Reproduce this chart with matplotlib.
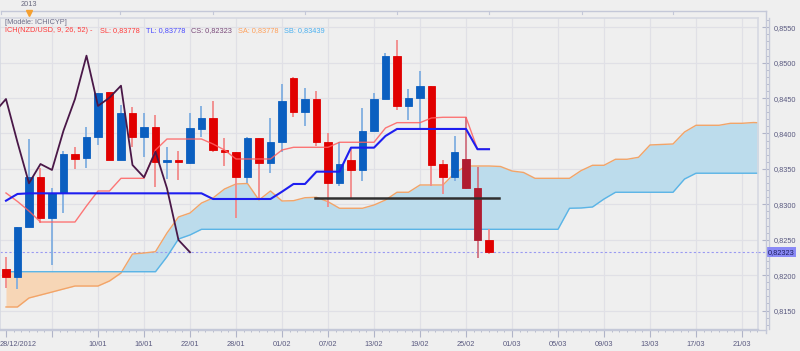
import matplotlib
matplotlib.use('Agg')
import matplotlib.pyplot as plt
import numpy as np
from matplotlib.lines import Line2D
from matplotlib.ticker import FixedLocator, FuncFormatter, MultipleLocator
import matplotlib.transforms as mtransforms

# ---------------- data ----------------
opens = [0.82082, 0.81969, 0.82675, 0.83390, 0.82802, 0.83164, 0.83706, 0.83650, 0.83955, 0.84582,
         0.83626, 0.84285, 0.83955, 0.84096, 0.83602, 0.83612, 0.83588, 0.84064, 0.84215, 0.83767,
         0.83743, 0.83390, 0.83932, 0.83588, 0.83876, 0.84780, 0.84300, 0.84487, 0.83876, 0.83297,
         0.83626, 0.83485, 0.84040, 0.84487, 0.85099, 0.84393, 0.84506, 0.84675, 0.83565, 0.83381,
         0.83636, 0.83226, 0.82496]
closes = [0.81969, 0.82675, 0.83390, 0.82802, 0.83164, 0.83706, 0.83640, 0.83955, 0.84568, 0.83626,
          0.84285, 0.83955, 0.84096, 0.83602, 0.83612, 0.83598, 0.84074, 0.84215, 0.83767, 0.83743,
          0.83390, 0.83932, 0.83588, 0.83876, 0.84459, 0.84300, 0.84487, 0.83876, 0.83297, 0.83569,
          0.83485, 0.84040, 0.84487, 0.85099, 0.84389, 0.84506, 0.84675, 0.83555, 0.83381, 0.83743,
          0.83226, 0.82496, 0.82323]
highs = [0.82252, 0.82679, 0.83922, 0.83513, 0.83235, 0.83753, 0.83805, 0.84088, 0.84572, 0.84593,
         0.84403, 0.84379, 0.84294, 0.84261, 0.83814, 0.83753, 0.84294, 0.84389, 0.84459, 0.83932,
         0.83743, 0.83955, 0.83932, 0.84215, 0.84699, 0.84802, 0.84647, 0.84600, 0.84011, 0.83876,
         0.83781, 0.84356, 0.84576, 0.85141, 0.85321, 0.84633, 0.84887, 0.84675, 0.83626, 0.83969,
         0.84237, 0.83531, 0.82651]
lows = [0.81818, 0.81804, 0.82675, 0.82740, 0.82143, 0.82877, 0.83494, 0.83509, 0.83838, 0.83619,
        0.83626, 0.83814, 0.83672, 0.83240, 0.83353, 0.83343, 0.83569, 0.83955, 0.83743, 0.83541,
        0.82811, 0.83297, 0.83071, 0.83438, 0.83743, 0.84237, 0.84110, 0.83828, 0.82966, 0.83259,
        0.83093, 0.83333, 0.84040, 0.84487, 0.84332, 0.84191, 0.84049, 0.83263, 0.83141, 0.83333,
        0.83212, 0.82237, 0.82298]

# Ichimoku lines
sl_line = [0.83160, 0.83040, 0.82905, 0.82750, 0.82750, 0.82750, 0.82750, 0.82976, 0.83188, 0.83188,
           0.83367, 0.83367, 0.83367, 0.83767, 0.83922, 0.83922, 0.83922, 0.83922, 0.83852, 0.83767,
           0.83640, 0.83640, 0.83640, 0.83640, 0.83767, 0.83805, 0.83805, 0.83805, 0.83805, 0.83876,
           0.83876, 0.83876, 0.83876, 0.84078, 0.84153, 0.84153, 0.84153, 0.84219, 0.84229, 0.84229,
           0.84229, 0.83778, 0.83778]
tl_line = [0.83051, 0.83146, 0.83155, 0.83155, 0.83155, 0.83155, 0.83155, 0.83155, 0.83155, 0.83155,
           0.83155, 0.83155, 0.83155, 0.83155, 0.83155, 0.83155, 0.83155, 0.83155, 0.83075, 0.83075,
           0.83075, 0.83075, 0.83075, 0.83075, 0.83178, 0.83287, 0.83287, 0.83461, 0.83461, 0.83461,
           0.83800, 0.83800, 0.83800, 0.83965, 0.84064, 0.84064, 0.84064, 0.84064, 0.84064, 0.84064,
           0.84064, 0.83778, 0.83778]
sa_line = [0.81550, 0.81550, 0.81677, 0.81719, 0.81761, 0.81804, 0.81846, 0.81846, 0.81846, 0.81917,
           0.82030, 0.82298, 0.82312, 0.82331, 0.82595, 0.82821, 0.82877, 0.83018, 0.83089, 0.83216,
           0.83287, 0.83294, 0.83061, 0.83188, 0.83047, 0.83051, 0.83093, 0.83099, 0.83037, 0.82944,
           0.82944, 0.82944, 0.82990, 0.83061, 0.83170, 0.83170, 0.83273, 0.83273, 0.83273, 0.83438,
           0.83541, 0.83541, 0.83541, 0.83534, 0.83470, 0.83450, 0.83367, 0.83367, 0.83367, 0.83367,
           0.83475, 0.83551, 0.83551, 0.83636, 0.83636, 0.83664, 0.83838, 0.83845, 0.83852, 0.84021,
           0.84116, 0.84116, 0.84116, 0.84144, 0.84144, 0.84155, 0.84147, 0.83778, 0.83778]
sb_line = [0.82048, 0.82048, 0.82048, 0.82048, 0.82048, 0.82048, 0.82048, 0.82048, 0.82048, 0.82048,
           0.82048, 0.82048, 0.82048, 0.82048, 0.82260, 0.82510, 0.82567, 0.82647, 0.82647, 0.82647,
           0.82647, 0.82647, 0.82647, 0.82647, 0.82647, 0.82647, 0.82647, 0.82647, 0.82647, 0.82647,
           0.82647, 0.82647, 0.82647, 0.82647, 0.82647, 0.82647, 0.82647, 0.82647, 0.82647, 0.82647,
           0.82647, 0.82647, 0.82647, 0.82647, 0.82647, 0.82647, 0.82647, 0.82647, 0.82647, 0.82944,
           0.82948, 0.82962, 0.83075, 0.83170, 0.83170, 0.83170, 0.83170, 0.83170, 0.83170, 0.83357,
           0.83439, 0.83439, 0.83439, 0.83439, 0.83439, 0.83439, 0.83439, 0.83439, 0.83439]
chikou_shift = 26

support_level = 0.83093
support_range = (26.9, 42.9)
last_close = 0.82323

x_tick_pos = [0, 4, 8, 12, 16, 20, 24, 28, 32, 36, 40, 44, 48, 52, 56, 60, 64]
x_tick_labels = ['28/12/2012', '', '10/01', '16/01', '22/01', '28/01', '01/02', '07/02', '13/02',
                 '19/02', '25/02', '01/03', '05/03', '09/03', '13/03', '17/03', '21/03']
y_ticks = [0.8150, 0.8200, 0.8250, 0.8300, 0.8350, 0.8400, 0.8450, 0.8500, 0.8550]

header_parts = [
    ('ICH(NZD/USD, 9, 26, 52) -', '#ff3c3c', 5),
    ('SL: 0,83778', '#ff3c3c', 100),
    ('TL: 0,83778', '#4a4aff', 146),
    ('CS: 0,82323', '#7a4a7a', 191),
    ('SA: 0,83778', '#ffa05a', 237.5),
    ('SB: 0,83439', '#4ab0f0', 284),
]

# ---------------- figure ----------------
W, H = 800, 351
BG = '#efefef'
plt.rcParams['font.family'] = ['Liberation Sans', 'DejaVu Sans']
fig = plt.figure(figsize=(W / 100, H / 100), dpi=100, facecolor=BG)

def fx(px):
    return px / W

def fy(py):
    return 1 - py / H

ax_left, ax_right, ax_top, ax_bottom = 0, 758, 18, 329
ax = fig.add_axes([fx(ax_left), fy(ax_bottom), fx(ax_right - ax_left), (ax_bottom - ax_top) / H])
ax.set_facecolor(BG)

n = len(closes)
x = np.arange(n)
o = np.array(opens); c = np.array(closes); hi = np.array(highs); lo = np.array(lows)
sa = np.array(sa_line); sb = np.array(sb_line)
xc = np.arange(len(sa))

ax.set_xlim(-0.52, 65.39)
ax.set_ylim(0.81239, 0.85631)

# grid
for t in x_tick_pos[1:]:
    ax.axvline(t, color='#e0e0e6', lw=0.9, zorder=0)
for t in y_ticks:
    ax.axhline(t, color='#e0e0e6', lw=0.9, zorder=0)

# cloud
ax.fill_between(xc, sa, sb, where=sa >= sb, interpolate=True, color='#bcdcec', lw=0, zorder=1)
ax.fill_between(xc, sa, sb, where=sa < sb, interpolate=True, color='#f7d6b6', lw=0, zorder=1)
ax.plot(xc, sa, color='#f2a468', lw=1.0, zorder=2)
ax.plot(xc, sb, color='#5ab4e6', lw=1.0, zorder=2)

# close dashed line
ax.axhline(last_close, color='#9a9af2', lw=0.8, ls=(0, (2, 2)), zorder=1.5)

# candles
up = c >= o
in_cloud = ((o + c) / 2 < sa[:n]) & ((o + c) / 2 > sb[:n]) & (sa[:n] > sb[:n])
body_col = []
wick_col = []
for i in range(n):
    if up[i]:
        body_col.append('#0b5fc0'); wick_col.append('#80aee0')
    elif in_cloud[i]:
        body_col.append('#b01c30'); wick_col.append('#d07080')
    else:
        body_col.append('#e10000'); wick_col.append('#f28a8a')
ax.vlines(x, lo, hi, colors=wick_col, lw=1.3, zorder=2.6)
bottoms = np.minimum(o, c)
heights = np.maximum(np.abs(c - o), 0.0003)
ax.bar(x, heights, bottom=bottoms, width=0.68, color=body_col, edgecolor=body_col,
       linewidth=0.6, zorder=3)

# lines
ax.plot(x, sl_line, color='#ff6060', lw=1.0, alpha=0.85, zorder=4)
ax.plot(x, tl_line, color='#1e1ef0', lw=1.5, zorder=4.2)
ax.plot(x - chikou_shift, closes, color='#4a1848', lw=1.3, zorder=4.4)
ax.plot(list(support_range), [support_level, support_level], color='#303030', lw=1.8, zorder=5)

# spines / axes
for s in ['top', 'left']:
    ax.spines[s].set_color('#d6d9e2'); ax.spines[s].set_linewidth(1.2)
ax.spines['bottom'].set_color('#c4c8d8'); ax.spines['bottom'].set_linewidth(1.0)
ax.spines['right'].set_position(('outward', 8))
ax.spines['right'].set_color('#c4c8d8'); ax.spines['right'].set_linewidth(1.0)
ax.add_line(Line2D([1, 1], [0, 1], transform=ax.transAxes, color='#d6d9e2', lw=1.2, clip_on=False))

ax.yaxis.tick_right()
ax.yaxis.set_major_locator(FixedLocator(y_ticks))
ax.yaxis.set_minor_locator(MultipleLocator(0.001))
ax.yaxis.set_major_formatter(FuncFormatter(lambda v, p: ('%.4f' % v).replace('.', ',')))
ax.tick_params(axis='y', which='major', direction='in', length=5, width=0.8, color='#b0b4c8',
               labelsize=5.3, labelcolor='#5a5a80', pad=3)
ax.tick_params(axis='y', which='minor', direction='in', length=2.5, width=0.6, color='#b0b4c8')

ax.xaxis.set_major_locator(FixedLocator(x_tick_pos))
ax.set_xticklabels(x_tick_labels)
ax.xaxis.set_minor_locator(MultipleLocator(4 / 6))
ax.tick_params(axis='x', which='major', direction='out', length=6, width=0.8, color='#b0b4c8',
               labelsize=5.3, labelcolor='#5a5a80', pad=3)
ax.tick_params(axis='x', which='minor', direction='out', length=2.5, width=0.6, color='#b0b4c8')
first = ax.get_xticklabels()[0]
first.set_ha('left')
first.set_transform(first.get_transform() + mtransforms.ScaledTranslation(-6 / 100, 0, fig.dpi_scale_trans))

# close price label on axis
trans = mtransforms.blended_transform_factory(ax.transAxes, ax.transData)
ax.text(768 / 758, last_close, ('%.5f' % last_close).replace('.', ','), transform=trans,
        fontsize=5.3, color='#1e1e60', ha='left', va='center', clip_on=False,
        bbox=dict(boxstyle='square,pad=0.2', fc='#8a8af6', ec='none'))
fig.add_artist(Line2D([fx(758), fx(766)], [fy(251.7), fy(251.7)], color='#9a9af2', lw=0.8,
                      ls=(0, (2, 2))))

# outer y-axis line and top navigator
fig.add_artist(Line2D([fx(766), fx(766)], [fy(11), fy(333)], color='#c4c8d8', lw=1.0))
fig.add_artist(Line2D([fx(0.5), fx(766)], [fy(11), fy(11)], color='#c4c8d8', lw=1.0))
for px in [1, 120, 213, 305, 397, 489, 582, 673]:
    fig.add_artist(Line2D([fx(px), fx(px)], [fy(11), fy(14)], color='#c4c8d8', lw=0.8))
fig.add_artist(Line2D([fx(0), fx(766)], [fy(329.5), fy(329.5)], color='#c4c8d8', lw=1.0))
fig.text(fx(29), fy(5), '2013', fontsize=5.3, color='#6a6a80', ha='center', va='center')
fig.add_artist(Line2D([fx(29)], [fy(13)], marker='v', markersize=4, color='#f5a030', lw=0))

# header
fig.text(fx(5), fy(22.7), '[Modèle: ICHICYP]', fontsize=5.3, color='#6e6e8a', ha='left', va='center')
for txt, col, px in header_parts:
    fig.text(fx(px), fy(30.7), txt, fontsize=5.3, color=col, ha='left', va='center')

fig.savefig('out.png', dpi=100, facecolor=BG)
